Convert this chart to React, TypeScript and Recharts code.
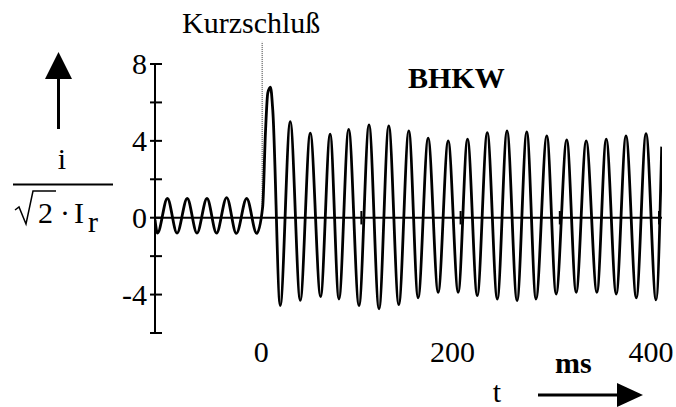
import React from "react";
import { LineChart, Line, XAxis, YAxis, ReferenceLine } from "recharts";

// time in ms, normalized current i/(sqrt2*Ir)
const timeMs = [
  -108, -105.5, -95.5, -85.8, -75.5, -65.7, -55.6, -46, -35.8, -26, -15.6, -5.5,
  0.5, 3.3, 5.7, 8.4, 10.7,
  18.2, 28.3, 38.4, 48.5, 58.9, 68.5, 77.4, 87.2, 97.6, 107.7, 117.8, 127.6, 137.7,
  147.8, 157.2, 167.3, 177.4, 187.5, 197.6, 207, 216.8, 226.9, 237, 246.8, 256.9,
  266.7, 276, 286.9, 296.3, 307, 316.5, 326.6, 337.4, 346.8, 356.9, 366.7, 377.1,
  386.9, 397, 402.7,
];
const current = [
  -0.1, -0.8, 1.0, -0.8, 1.0, -0.8, 1.0, -0.8, 1.05, -0.82, 1.0, -0.82,
  0.55, 4.4, 6.5, 6.8, 5.6,
  -4.57, 5.0, -4.3, 4.4, -4.1, 4.35, -4.23, 4.6, -4.57, 4.83, -4.74, 4.78, -4.52,
  4.52, -4.17, 4.14, -3.88, 4.0, -3.88, 4.09, -4.05, 4.43, -4.23, 4.52, -4.31,
  4.47, -4.23, 4.26, -3.97, 4.05, -3.88, 4.0, -3.88, 4.09, -3.97, 4.26, -4.17,
  4.38, -4.28, 3.7,
];
const xDomain = [-108, 403];
const yDomain = [-6, 8];
const yTicks = [-6, -4, -2, 0, 2, 4, 6, 8];
const yLabelled = [-4, 0, 4, 8];
const xLabelTicks = [0, 200, 400];
const xMarkTicks = [100, 200, 300, 400];
const faultTime = 0;

const data = timeMs.map((t, i) => ({ t, i: current[i] }));

const FONT = "'Liberation Serif', 'Times New Roman', serif";

const YTick = (props: any) => {
  const { x, y, payload } = props;
  const v = payload.value;
  return (
    <g>
      <line x1={x - 5} x2={x + 7} y1={y} y2={y} stroke="#000" strokeWidth={2} />
      {yLabelled.includes(v) && (
        <text x={x - 8} y={y + 10} textAnchor="end" fontFamily={FONT} fontSize={30} fill="#000">
          {String(v)}
        </text>
      )}
    </g>
  );
};

const XTick = (props: any) => {
  const { x, y, payload } = props;
  const v = payload.value;
  const dx = v === 0 ? -1 : -8;
  return (
    <text x={x + dx} y={y + 29} textAnchor="middle" fontFamily={FONT} fontSize={30} fill="#000">
      {String(v)}
    </text>
  );
};

export default function App() {
  return (
    <div style={{ position: "absolute", left: 0, top: 0, width: 676, height: 407, background: "#fff" }}>
      <LineChart
        width={676}
        height={407}
        data={data}
        margin={{ top: 64, right: 14, bottom: 44, left: 0 }}
      >
        <XAxis
          dataKey="t"
          type="number"
          domain={xDomain}
          ticks={xLabelTicks}
          axisLine={false}
          tickLine={false}
          tickSize={0}
          tickMargin={0}
          height={30}
          tick={<XTick />}
          interval={0}
          allowDataOverflow
        />
        <YAxis
          type="number"
          domain={yDomain}
          ticks={yTicks}
          width={155}
          axisLine={{ stroke: "#000", strokeWidth: 2 }}
          tickLine={false}
          tickSize={0}
          tickMargin={0}
          tick={<YTick />}
          interval={0}
          allowDataOverflow
        />
        <ReferenceLine y={0} stroke="#000" strokeWidth={2} ifOverflow="visible" />
        {xMarkTicks.map((v) => (
          <ReferenceLine
            key={v}
            segment={[{ x: v, y: -0.35 }, { x: v, y: 0.35 }]}
            stroke="#000"
            strokeWidth={2}
            ifOverflow="visible"
          />
        ))}
        <ReferenceLine
          segment={[{ x: faultTime, y: 0.5 }, { x: faultTime, y: 9.15 }]}
          stroke="#333"
          strokeWidth={1}
          strokeDasharray="1 1"
          ifOverflow="visible"
        />
        <Line
          dataKey="i"
          type="monotone"
          stroke="#000"
          strokeWidth={2.8}
          strokeLinejoin="round"
          dot={false}
          isAnimationActive={false}
        />
      </LineChart>
      <svg
        width={676}
        height={407}
        style={{ position: "absolute", left: 0, top: 0, pointerEvents: "none" }}
      >
        <text x={182} y={33} fontFamily={FONT} fontSize={30} fill="#000">Kurzschluß</text>
        <text x={408} y={88} fontFamily={FONT} fontSize={30} fontWeight="bold" fill="#000">BHKW</text>
        {/* y-axis quantity */}
        <line x1={58.5} y1={78} x2={58.5} y2={129} stroke="#000" strokeWidth={3} />
        <polygon points="45,79 72,79 58.5,52" fill="#000" />
        <text x={62} y={169} textAnchor="middle" fontFamily={FONT} fontSize={30} fill="#000">i</text>
        <line x1={13} y1={184.5} x2={113} y2={184.5} stroke="#000" strokeWidth={2} />
        <path d="M15,210 L19,207 L26,224 L33,191 L56,191" fill="none" stroke="#000" strokeWidth={1.5} />
        <text x={38} y={223} fontFamily={FONT} fontSize={30} fill="#000">2</text>
        <text x={60} y={223} fontFamily={FONT} fontSize={30} fill="#000">·</text>
        <text x={74} y={223} fontFamily={FONT} fontSize={30} fill="#000">I</text>
        <text x={88} y={232} fontFamily={FONT} fontSize={30} fill="#000">r</text>
        {/* x-axis quantity */}
        <text x={555} y={373} fontFamily={FONT} fontSize={30} fontWeight="bold" fill="#000">ms</text>
        <text x={497} y={402} textAnchor="middle" fontFamily={FONT} fontSize={30} fill="#000">t</text>
        <line x1={538} y1={395} x2={618} y2={395} stroke="#000" strokeWidth={3} />
        <polygon points="617,383 617,407 643,395" fill="#000" />
      </svg>
    </div>
  );
}
